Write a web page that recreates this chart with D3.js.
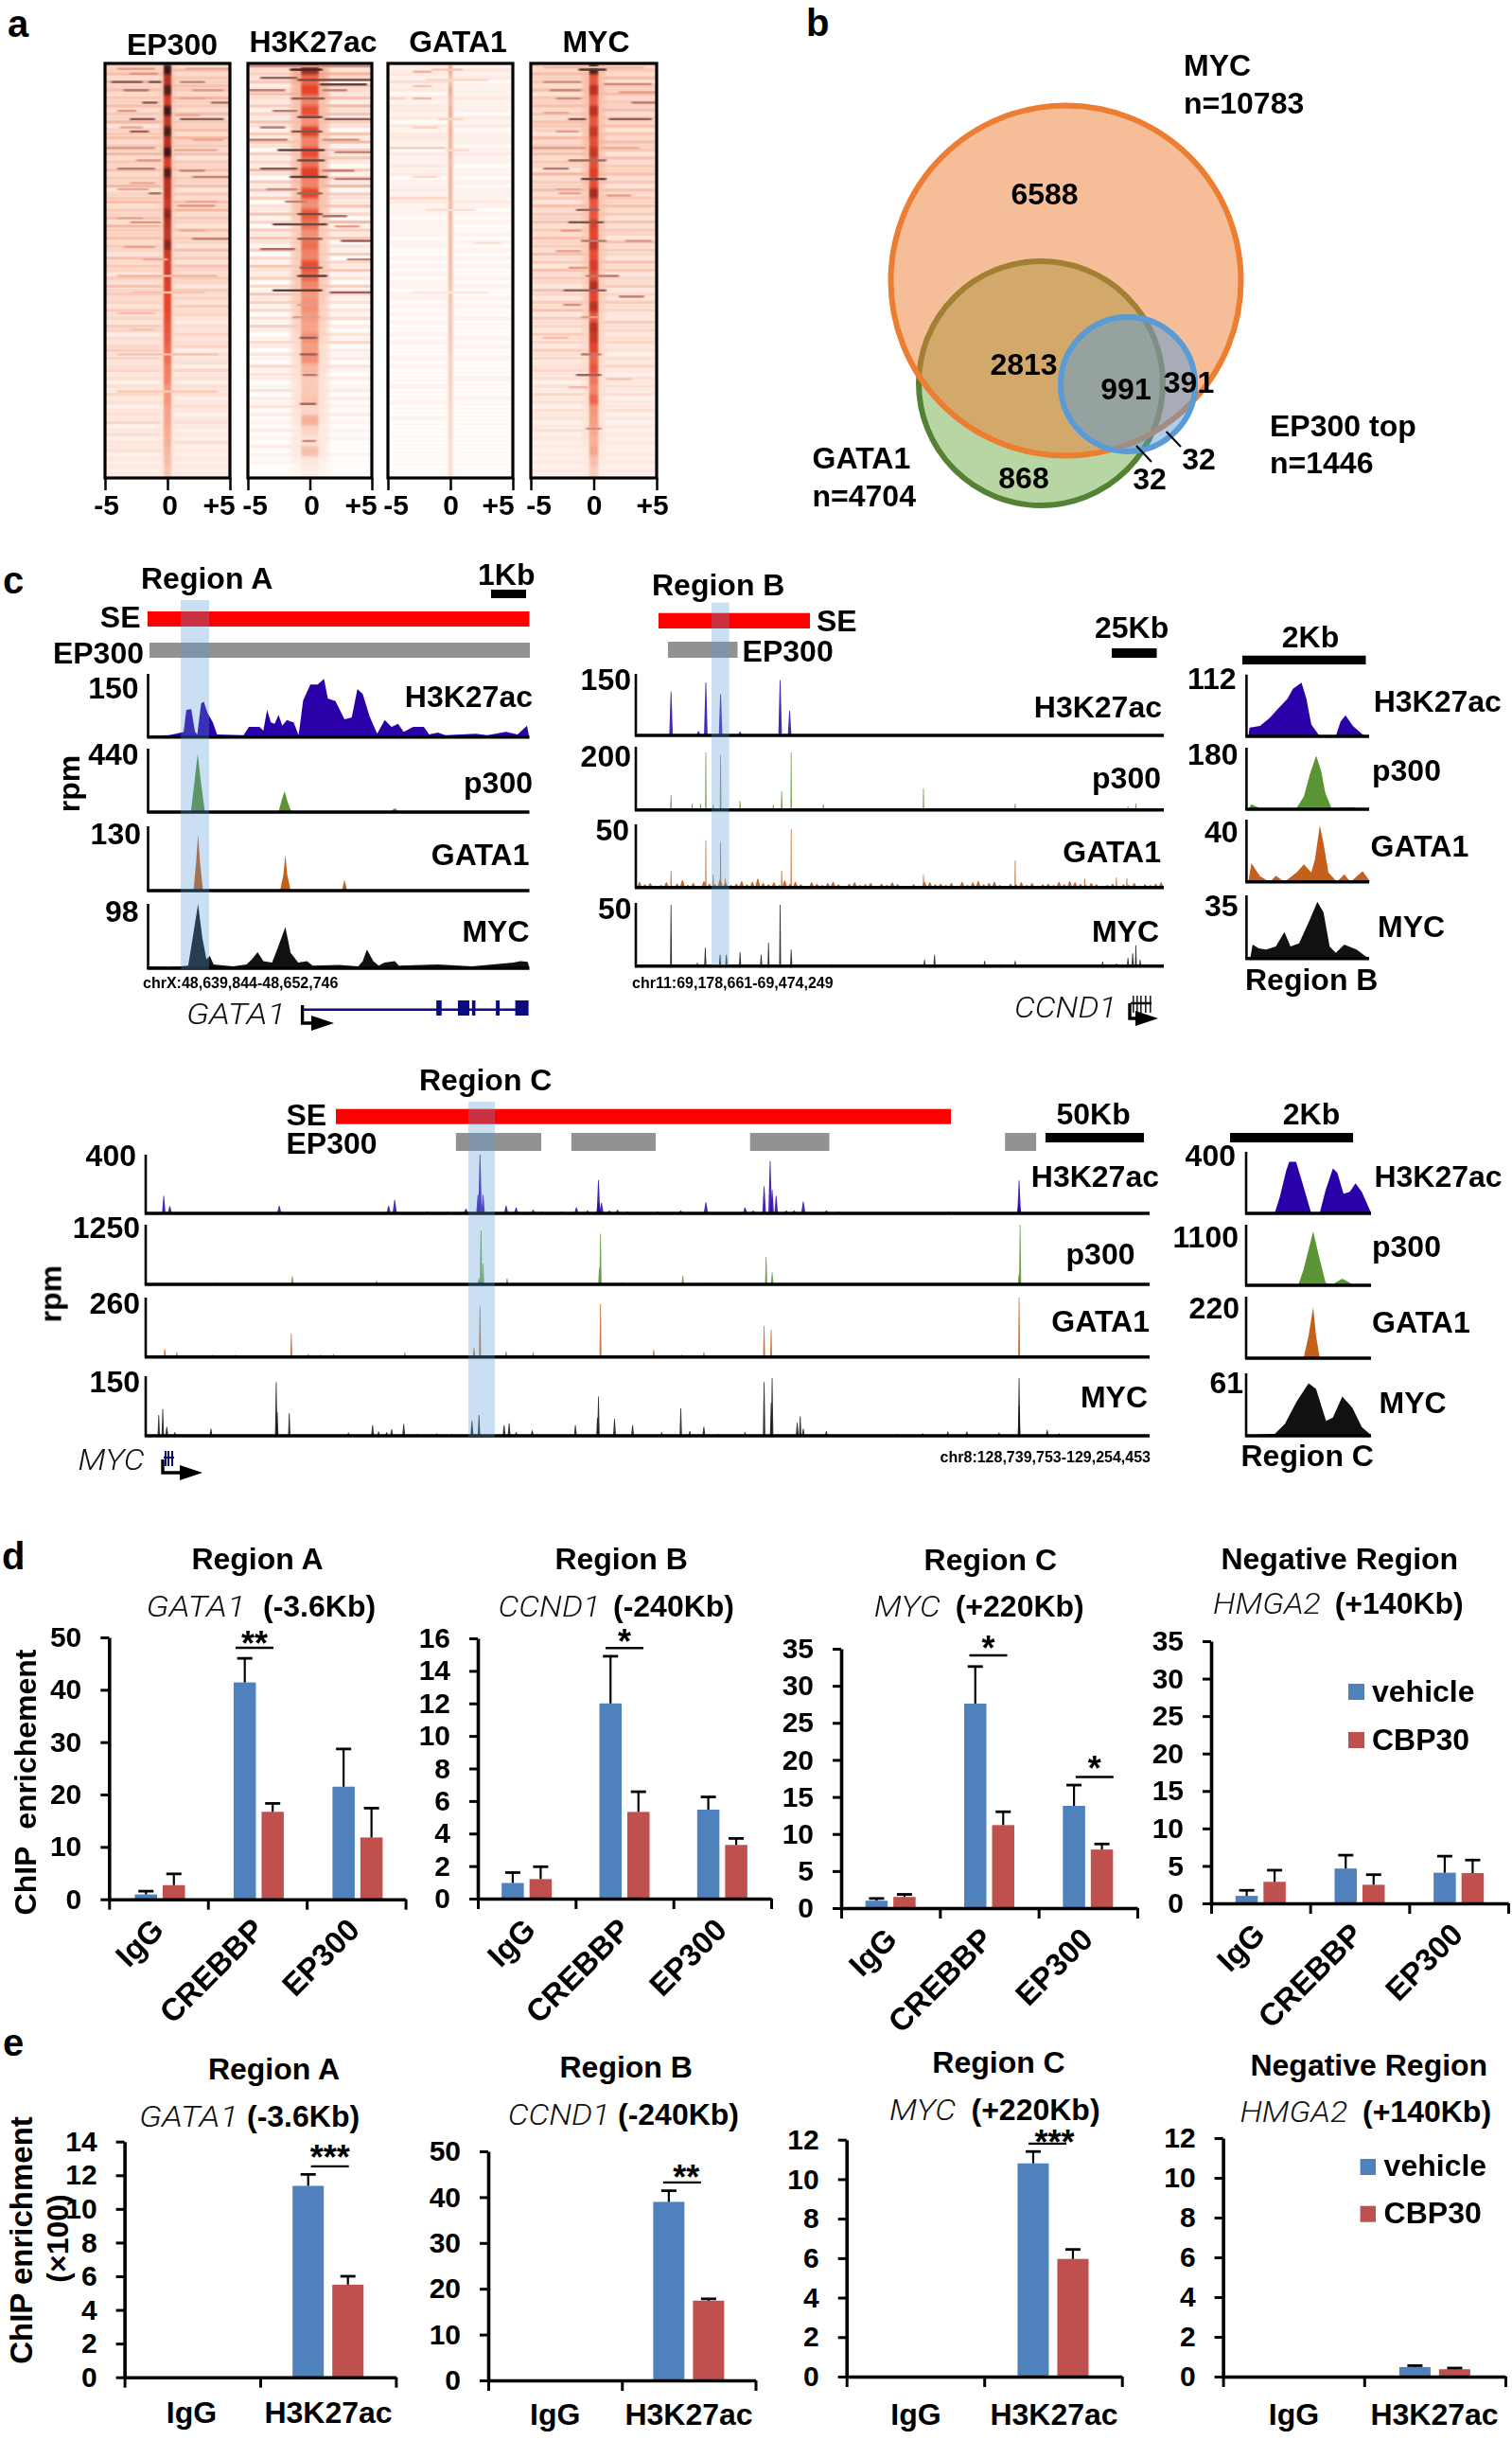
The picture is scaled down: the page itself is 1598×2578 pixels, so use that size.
<!DOCTYPE html>
<html><head><meta charset="utf-8">
<script src="https://cdn.jsdelivr.net/npm/d3@7/dist/d3.min.js"></script>
<style>
html,body{margin:0;padding:0;background:#fff}
svg{display:block}
text{font-family:"Liberation Sans",Arial,sans-serif;font-weight:700;fill:#000}
.gene{font-family:Roboto,"Liberation Sans",sans-serif;font-weight:300;font-style:italic;fill:#111}
</style></head><body>
<script>
/* ---------- a: heatmaps (levels 0-1, rows top to bottom) ---------- */
const heatmapNames=["EP300","H3K27ac","GATA1","MYC"];
const heatBoxes=[[111,243],[262,393],[410,542],[561,694]];
const heatTicks=["-5","0","+5"];
const bgEP300=[.24,.23,.22,.22,.22,.21,.21,.21,.2,.2,.19,.19,.18,.18,.17,.17,.15,.14,.13,.13,.12,.12,.12,.12];
const bgH3=[.2,.17,.12,.11,.1,.1,.09,.09,.08,.08,.07,.07,.06,.06,.05,.05,.04,.04,.03,.03,.03,.03,.03,.03];
const bgGATA1=[.09,.09,.08,.07,.1,.07,.07,.07,.06,.06,.06,.06,.06,.06,.06,.06,.06,.06,.06,.06,.06,.06,.05,.05];
const bgMYC=[.24,.24,.23,.22,.24,.2,.2,.2,.19,.18,.17,.16,.16,.15,.14,.14,.13,.12,.11,.1,.1,.1,.09,.09];
const fineEP300L="6574857465746583567465846574658356746574865746537465364756453645365243564534534243534234352342334232323";
const fineEP300R="5746576485647465748564736574657364758465374653746375465364536453243534524342534243423432343232423232323";
const fineH3L="7453624743625374263741625384163726143725163742615274361527362514263125314215243124132413121312131212111";
const fineH3R="6385264372847364173826473162738164372518263714261537241635241425131425132314213123131213121212111211111";
const fineGATA1L="3232423132332313233221322323122325322212222122112121212212212121211212111212111121112111211111111111111";
const fineGATA1R="2323122232221323122212322122121222321212112121212121121211212112111121211211112111121111111111111111111";
const fineMYCL="6475647365746476537465746538465746374657464756474637465375364736453645364534534243534243423423232323232";
const fineMYCR="5647365746574657364756374657463746574637465374653746354635364533645345342435324343423342323232322323232";
const haloH3=[.45,.42,.36,.36,.32,.36,.4,.36,.36,.32,.32,.32,.34,.32,.3,.28,.24,.22,.2,.2,.18,.15,.15,.08];
const haloEP300=[.34,.34,.32,.32,.32,.32,.32,.3,.3,.28,.28,.28,.26,.26,.24,.22,.2,.2,.18,.18,.16,.16,.14,.13];
const haloGATA1=[.12,.12,.12,.12,.12,.12,.12,.1,.1,.1,.1,.1,.1,.1,.1,.1,.1,.1,.08,.08,.08,.08,.08,.08];
const haloMYC=[.36,.36,.34,.34,.36,.34,.36,.32,.34,.32,.32,.32,.3,.3,.28,.26,.24,.22,.2,.2,.18,.18,.14,.12];
const coreEP300=[.98,.8,.95,.75,.97,.78,.96,.8,.97,.74,.94,.8,.8,.76,.88,.8,.78,.88,.76,.74,.74,.72,.7,.7,.68,.66,.65,.62,.6,.56,.55,.5,.5,.46,.45,.42,.4,.38,.35,.32];
const coreH3=[.85,.62,.7,.55,.68,.52,.72,.55,.68,.6,.72,.55,.7,.52,.65,.6,.52,.6,.55,.68,.62,.54,.5,.52,.48,.45,.52,.48,.52,.38,.3,.3,.32,.25,.4,.25,.18,.34,.15,.1];
const coreGATA1=[.46,.36,.46,.4,.46,.4,.44,.42,.46,.4,.44,.42,.42,.4,.42,.4,.38,.4,.4,.38,.38,.36,.36,.34,.34,.34,.34,.32,.3,.3,.3,.28,.28,.26,.26,.26,.24,.24,.22,.2];
const coreMYC=[.96,.66,.8,.64,.8,.66,.78,.68,.78,.68,.72,.68,.84,.66,.66,.72,.7,.78,.68,.74,.68,.82,.7,.8,.66,.8,.76,.7,.62,.66,.58,.54,.62,.5,.48,.44,.4,.44,.34,.28];
const coreWidths=[.3,.7,.14,.36];
const haloWidths=[.6,1.5,.3,.9];
const streaksEP300=[[.8,-4,-1,.5],[.8,1.5,5,.45],[2,-3,-.8,.52],[4,-4.5,-2,.72],[4,-1.5,-.5,.76],[4,1,3,.58],[6,-3.5,-1.5,.64],[6,2,4.5,.52],[8,1,3,.45],[9,-2,-.8,.74],[9,3.5,5,.65],[11,-4,-2.5,.52],[12,.6,2.6,.46],[13,-3,-1,.72],[13,1,4.5,.72],[15,-3.8,-2,.45],[16,-3,-1.5,.7],[18,2,4.5,.45],[20,-5,-1,.52],[20.5,.5,4,.44],[23,-2.5,-.5,.52],[25,-4,-1,.62],[25.5,1,3,.58],[27,2,5,.58],[28.5,-3,-1,.44],[30,-4,-1.5,.46],[31,-1.5,-.5,.65],[33,1.5,4,.44],[34,.8,3.8,.52],[37,-4,-2,.46],[38,-3,-.5,.52],[40,1,3,.42],[42,2,5,.6],[44,-3.5,-1,.46],[47,-2,0,.42],[51,-4,4,.37],[55,-3,3,.3],[60,-4,-1,.34],[64,-3,-1,.3],[70,-4,4,.3],[79,-4,4,.28]];
const streaksH3=[[.2,-5,5,.55],[1,-1.6,1,.96],[3,-4,-1,.7],[3.5,-1,5,.8],[4.6,.8,4.6,.86],[6,-5,-2,.62],[6,1,3,.6],[8,-1.5,1.2,.72],[11,-3,-1,.62],[12.5,-1,1,.82],[13,1.2,5,.72],[15,-4,-2,.62],[16,-1.5,1,.76],[18,-5,-1.8,.6],[18,1,4,.54],[20.5,-2.6,1.2,.86],[21,2,5,.58],[23,-1,1.2,.82],[25,-4,-1,.74],[25.5,1,3.6,.6],[27,-1.6,1.4,.86],[27.5,2,5,.6],[30,-3.5,-1,.56],[31,-1,1,.7],[33,-2,-.2,.6],[36,-1,1,.8],[36.5,1,3,.66],[38.5,-3,1.4,.82],[39,2,4,.5],[42,-1,1,.72],[42.5,2.5,5,.72],[44.5,-4,-1.2,.66],[47,3,5,.58],[49,-.8,1,.72],[51,-1,1.4,.86],[54.5,-3,1,.86],[55,1.6,5,.7],[58,-1,.4,.5],[61,-1.4,.8,.5],[66,-.8,.6,.72],[70,-.8,.6,.7],[75,-.6,.6,.62],[82,-.8,.5,.68],[91,-.6,.5,.56]];
const streaksGATA1=[[1,-1.5,1,.3],[1.5,-3,-1.5,.4],[3.5,-2,3,.2],[5,-3,-1.5,.3],[8,-3,-1.5,.36],[8,-5,-3.6,.22],[13,-1,1,.2],[15,-3,-1,.24],[20,-5,-.4,.26],[20.5,-.4,1.5,.18],[27,-3,-1,.18],[35,-2,2,.15],[43,2,4,.16],[55,-3,3,.1]];
const streaksMYC=[[.5,-4,4,.36],[1,-1.2,1,.9],[4,-4,-1,.55],[4.5,.8,4.6,.56],[6,-3.5,-1,.58],[6.5,2,5,.5],[8,-3,-1,.55],[9,3,5,.62],[11.5,-4,-2,.45],[13,-2,-.6,.74],[13,1.2,4.6,.72],[16,-3,-1.2,.5],[20,-5,-.6,.5],[20,.6,3.6,.42],[23,-2,1,.68],[25,-4,-2,.62],[27.5,-1,1,.82],[30,-3,-1,.44],[31,-2.8,-1,.46],[31.5,1,3,.5],[35,-1.4,.4,.7],[38,-2,.8,.76],[40,-2.6,-1,.5],[42.5,-1,1,.62],[42.5,2.5,4.6,.52],[45,-3,-1,.48],[49,-2,-.4,.5],[51,-.6,2,.62],[54.5,-2.4,1,.7],[56,2,4,.6],[58,-2.4,-1,.54],[61,-1,.4,.5],[66,-4,-2,.34],[70,-1,.6,.62],[75,-1.4,.6,.7],[76,1,3,.3],[78,-2,-.4,.36],[88,-.6,.6,.55]];
const heatBg=[bgEP300,bgH3,bgGATA1,bgMYC],heatHalo=[haloEP300,haloH3,haloGATA1,haloMYC],heatCore=[coreEP300,coreH3,coreGATA1,coreMYC],heatStreaks=[streaksEP300,streaksH3,streaksGATA1,streaksMYC];
const heatFine=[[fineEP300L,fineEP300R],[fineH3L,fineH3R],[fineGATA1L,fineGATA1R],[fineMYCL,fineMYCR]];

/* ---------- b: Venn ---------- */
const vennSets=["GATA1","MYC","EP300 top"];
const vennRadius=[129,185,71];
const vennCounts=["6588","2813","991","391","868","32","32"];

/* ---------- c: tracks; x in % of window, value in % of the axis maximum ---------- */
const trackNames=["H3K27ac","p300","GATA1","MYC"];
const maxA=["150","440","130","98"],maxB=["150","200","50","50"],maxC=["400","1250","260","150"];
const maxIB=["112","180","40","35"],maxIC=["400","1100","220","61"];
const aH3=[[0,2],[5,3],[7,5],[9,8],[9.7,43],[11,44],[12,8],[12.6,4],[13.6,53],[14.3,56],[15.3,38],[16.7,23],[17.8,4],[24.8,3],[26.2,16],[29,16],[30,10],[31,43],[32,23],[33,21],[34,35],[35,18],[36.2,27],[38,23],[39.3,3],[40.5,58],[42.4,83],[44.3,83],[46,92],[47,61],[49,57],[51.4,28],[53.3,31],[54.8,76],[56.2,68],[58,33],[60,5],[62,27],[63.8,16],[65.5,21],[67,8],[69.5,16],[72.3,16],[73.7,4],[76,7],[78,3],[86,5],[89,3],[94,8],[97,4],[99.5,18],[100,2]];
const aP300=[[10.9,0],[11.9,50],[12.7,92],[13.5,50],[14.6,0],[34,0],[34.8,18],[35.6,33],[36.4,16],[37.4,0],[50.6,0],[51,1],[51.4,0],[63.2,0],[64.7,6],[65.9,0]];
const aGATA1=[[11.6,0],[12.3,45],[12.8,88],[13.3,45],[14.1,0],[18,0],[18.6,1],[19,0],[34.4,0],[35.3,25],[35.8,56],[36.3,25],[37.2,0],[50.7,0],[51.4,17],[52.1,0]];
const aMYC=[[0,3],[5,2],[8,3],[10.2,4],[11,33],[12.8,100],[13.9,48],[15,14],[15.9,19],[16.9,6],[20,4],[22,3],[25.6,6],[27,14],[28.5,25],[30,11],[32.3,9],[33.9,33],[35.8,64],[37.2,24],[39.2,9],[41.5,11],[43,4],[50,5],[55,3],[56.2,11],[57.3,29],[59,11],[60.4,4],[61.9,9],[64.7,11],[65.7,4],[76,6],[85,3],[95.9,9],[97.8,11],[99.7,10],[100,3]];

const bH3=[[6.5,71],[11.7,7],[13.1,86],[15.9,67],[19.6,6],[27.2,90],[29,40],[93.9,2]];
const bP300=[[6.5,23],[10.5,10],[12.1,10],[13.1,91],[14.5,8],[15.9,87],[19.6,14],[25.9,8],[27.5,29],[29.3,91],[35.4,9],[54.4,34],[71.8,10],[93.2,6],[94.7,10],[4,2],[9,2],[18,3],[22,2],[32,2],[38,2],[45,2],[50,2],[58,3],[62,2],[66,2],[70,2],[76,3],[80,2],[84,2],[88,3],[91,3],[97,2]];
const bGATA1=[[13.1,75],[15.9,72],[29.3,93],[71.8,43],[6.5,27],[54.4,20],[27.5,27],[14.5,20],[16.8,14],[85,14],[93,15],[91,16]];
const bGATA1Grass=[9,5,7,3,4,8,3,6,12,4,7,3,10,6,5,13,8,4,6,10,5,9,14,7,5,8,4,11,6,9,5,3,8,6,4,7,9,5,3,6,8,4,5,7,3,6,4,8,5,3,2,5,3,9,8,5,6,4,7,3,9,4,8,10,5,7,9,4,3,6,5,8,4,7,3,5,6,4,9,5,10,8,6,4,7,5,3,4,6,3,5,4,7,3,5,4,6,8];
const bMYC=[[6.5,97],[11.5,5],[13,29],[15.8,18],[17,18],[19.6,22],[23.6,18],[25,37],[27.2,97],[29.3,26],[54.6,10],[56.5,18],[66,8],[71.8,8],[88.4,7],[93.2,13],[94.1,20],[94.7,33],[95.5,10],[4,2],[9,2],[21,3],[31,3],[34,2],[37,3],[42,2],[48,2],[60,2],[63,2],[69,3],[75,2],[80,2],[85,3],[91,4]];

const cH3=[[1.8,30],[2.4,12],[13.3,13],[24.2,13],[24.8,23],[31.9,8],[33.3,100],[33.1,32],[33.6,32],[35.9,13],[36.9,10],[38.6,6],[42.9,10],[45.1,57],[45.1,18],[45.4,18],[47,6],[53.3,5],[55.8,19],[59.7,10],[61.6,46],[62.2,89],[62.4,40],[62.8,30],[63.8,5],[64.6,5],[65.5,20],[67.8,5],[69,3],[80,3],[87,56],[87,18],[8.3,2],[28,3],[30,3],[39.5,3],[41.5,3],[44,5],[46.2,5],[48,3],[51,3],[56.5,2],[58,2],[60.5,5]];
const cP300=[[6.9,3],[14.6,14],[23,6],[33.4,90],[33.6,35],[33.2,10],[36,10],[45.3,85],[45.2,28],[47.4,3],[53.5,14],[55.8,3],[61.8,46],[62.4,20],[87.1,100],[87,18]];
const cGATA1=[[1.9,13],[3.1,8],[6.7,4],[9,4],[14.5,39],[16.2,5],[17.4,4],[18.7,5],[25.8,8],[32.7,15],[33.3,85],[35.9,9],[38.6,8],[45.3,89],[47.3,3],[50.6,12],[53.4,4],[55.6,8],[61.6,52],[62.3,46],[77.4,2],[79.8,2],[81.7,2],[87,100],[36.9,3],[44.4,3],[52,3],[54.5,3],[57,2],[89,2],[92,2],[96,2]];
const cMYC=[[1.3,35],[1.7,45],[2.1,15],[2.9,6],[6.5,12],[13,90],[13.1,40],[14.3,38],[20.2,5],[22.6,18],[23.2,7],[24,6],[24.5,11],[25.7,20],[29,4],[32.5,25],[33.2,35],[35.7,18],[36.2,21],[36.9,6],[38.5,9],[42.8,18],[45.1,66],[45,30],[46.7,28],[48.5,18],[51.4,6],[53.3,46],[54.2,8],[55.6,15],[59.7,6],[61.6,90],[62.4,97],[62.3,55],[64.9,22],[65.2,33],[65.5,12],[67.8,8],[74.9,3],[77.4,4],[79.9,7],[81.8,7],[85,5],[87,97],[87,50],[89.8,10],[91,4],[16,2],[27,3],[30.5,3],[40,2],[57,3]];

const ibH3=[[1.5,0],[2.5,14],[11,17],[19,30],[26,45],[33.5,61],[38,77],[45,87],[49,61],[53,19],[60,0],[73,0],[77,24],[81,34],[87,17],[95,3],[98.5,0]];
const ibP300=[[1.5,0],[4,8],[11,2],[41,2],[47,21],[52,58],[57,87],[61,63],[64.5,26],[69.5,2],[85,3],[100,0]];
const ibGATA1=[[1.5,0],[4,30],[11,9],[19,0],[24,10],[31,0],[41,15],[47,28],[53,15],[56,36],[60,91],[63,62],[67,15],[74,0],[80,12],[85,0],[95,17],[101,1]];
const ibMYC=[[3,0],[5,22],[10,16],[16,14],[24,19],[31,42],[36,19],[43,24],[51,58],[58,90],[63,73],[68,19],[73,9],[80,22],[90,14],[100,0]];
const icH3=[[1.5,1],[23,1],[27,27],[32,69],[34.5,84],[40,84],[46,43],[52,1],[59,1],[63.7,38],[69.5,73],[73,66],[78,32],[83,35],[87.6,49],[92.6,35],[100,1]];
const icP300=[[1.5,0],[32,0],[42,2],[46,26],[53.7,89],[59,42],[63.7,4],[69.5,2],[77,11],[86.8,0],[97,0]];
const icGATA1=[[1.5,0],[46,0],[50,36],[53.7,83],[56,36],[59,0],[100,0]];
const icMYC=[[1.5,1],[23,3],[31,19],[40.5,55],[50,84],[56,75],[64,24],[69.5,29],[77,63],[85,45],[92.6,14],[100,1]];
const trackColors=["#2a00a8","#5a9435","#c55f1c","#111111"];

const gataExons=[[75.6,77],[81.3,84.3],[85,85.9],[91.3,92.3],[96.4,99.9]];
const epSegsC=[[30.9,39.4],[42.4,50.8],[60.2,68.1],[85.6,88.7]];
const geneWidths={GATA1:105,CCND1:108,MYC:70,HMGA2:114};

/* ---------- d / e: bar charts ---------- */
const dCats=["IgG","CREBBP","EP300"],eCats=["IgG","H3K27ac"];
const series=["vehicle","CBP30"];
const dTicksA=[0,10,20,30,40,50],dTicksB=[0,2,4,6,8,10,12,14,16],dTicks35=[0,5,10,15,20,25,30,35];
const dA_vehicle=[.93,41.4,21.5],dA_CBP30=[2.7,16.7,11.8],dA_vehErr=[1.55,46,28.7],dA_cbpErr=[4.85,18.3,17.4];
const dB_vehicle=[.96,12,5.47],dB_CBP30=[1.2,5.33,3.3],dB_vehErr=[1.6,14.9,6.25],dB_cbpErr=[1.96,6.57,3.7];
const dC_vehicle=[1,27.6,13.8],dC_CBP30=[1.5,11.2,7.9],dC_vehErr=[1.3,32.6,16.6],dC_cbpErr=[1.85,13,8.65];
const dN_vehicle=[1,4.65,4.09],dN_CBP30=[2.87,2.48,4.04],dN_vehErr=[1.74,6.43,6.3],dN_cbpErr=[4.43,3.83,5.78];
const eTicksA=[0,2,4,6,8,10,12,14],eTicksB=[0,10,20,30,40,50],eTicks12=[0,2,4,6,8,10,12];
const eA_vehicle=[.03,11.37],eA_CBP30=[.03,5.5],eA_vehErr=[.03,12.05],eA_cbpErr=[.03,6];
const eB_vehicle=[.1,38.97],eB_CBP30=[.1,17.4],eB_vehErr=[.1,41.4],eB_cbpErr=[.1,17.8];
const eC_vehicle=[.03,10.8],eC_CBP30=[.03,5.96],eC_vehErr=[.03,11.4],eC_cbpErr=[.03,6.44];
const eN_vehicle=[.03,.48],eN_CBP30=[.03,.37],eN_vehErr=[.03,.55],eN_cbpErr=[.03,.43];

const W=1598,H=2578;
const svg=d3.select("body").append("svg").attr("width",W).attr("height",H).attr("viewBox",`0 0 ${W} ${H}`);
const defs=svg.append("defs");
function blur(id,s){defs.append("filter").attr("id",id).attr("x","-5%").attr("y","-5%").attr("width","110%").attr("height","110%").append("feGaussianBlur").attr("stdDeviation",s);}
blur("soft","1.3 0.5");blur("softCore","0.8 1.8");blur("softWide","2.5 3");
function T(x,y,s,o={}){
  const n=svg.append("text").attr("x",x).attr("y",y).attr("font-size",o.size||32).attr("text-anchor",o.a||"start").text(s);
  if(o.cls)n.attr("class",o.cls);
  if(o.len)n.attr("textLength",o.len).attr("lengthAdjust","spacingAndGlyphs");
  if(o.rot!=null)n.attr("transform",`rotate(${o.rot} ${x} ${y})`);
  return n;
}
function R(x0,y0,x1,y1,c){svg.append("rect").attr("x",x0).attr("y",y0).attr("width",x1-x0).attr("height",y1-y0).attr("fill",c);}

/* panel letters */
[["a",8,39],["b",852,38],["c",3,627],["d",2,1658],["e",3,2172]].forEach(d=>T(d[1],d[2],d[0],{size:40}));

/* === a === */
const heatColor=d3.scaleLinear().domain([0,.25,.5,.7,.85,1]).range(["#ffffff","#fbd6c6","#f4987c","#e6452c","#a12a20","#2a1512"]);
const streakColor=d3.scaleLinear().domain([.1,.3,.5,.72,1]).range(["#fde8de","#f8c4b0","#e79c8a","#8f5f58","#30201e"]);
const fineColor=d3.scaleLinear().domain([1,3,5,8]).range(["#fffdfc","#fde6dc","#fbcfbd","#f3ab93"]);
const heatTitles=[[182,58],[331,54.5],[484,54.5],[630,54.5]];
const heatTickDx=[[1,2,-12],[7,1.5,-12],[8,0,-16],[8,0,-5]];
heatmapNames.forEach((nm,i)=>{
  const [x0,x1]=heatBoxes[i],top=68,bot=504;
  const x=d3.scaleLinear().domain([-5,5]).range([x0,x1]);
  const y=d3.scaleLinear().domain([0,100]).range([top,bot]);
  const cid="clip"+i;
  defs.append("clipPath").attr("id",cid).append("rect").attr("x",x0).attr("y",top).attr("width",x1-x0).attr("height",bot-top);
  const outer=svg.append("g").attr("clip-path",`url(#${cid})`);
  const gb=outer.append("g").attr("filter","url(#softWide)");
  const bg=heatBg[i],hl=heatHalo[i],co=heatCore[i];
  bg.forEach((v,r)=>gb.append("rect").attr("x",x(-5)-8).attr("width",x1-x0+16).attr("y",y(r/bg.length*100)).attr("height",y(100/bg.length)-top+.5).attr("fill",heatColor(v)));
  const g=outer.append("g").attr("filter","url(#soft)");
  heatFine[i].forEach((str,side)=>{
    const n=str.length;
    Array.from(str).forEach((c,r)=>g.append("rect").attr("x",side?x(.2):x(-5)).attr("width",x(.2)-x(-5)-(side?0:x(.2)-x(-.2))).attr("y",y(r/n*100)).attr("height",3.2).attr("fill",fineColor(+c)).attr("opacity",.75));
  });
  const gh=outer.append("g").attr("filter","url(#softWide)");
  hl.forEach((v,r)=>gh.append("rect").attr("x",x(-haloWidths[i])).attr("width",x(haloWidths[i])-x(-haloWidths[i])).attr("y",y(r/hl.length*100)).attr("height",y(100/hl.length)-top+.5).attr("fill",heatColor(v)).attr("opacity",.8));
  const gc=outer.append("g").attr("filter","url(#softCore)");
  co.forEach((v,r)=>gc.append("rect").attr("x",x(-coreWidths[i])).attr("width",x(coreWidths[i])-x(-coreWidths[i])).attr("y",y(r/co.length*100)).attr("height",y(100/co.length)-top+.5).attr("fill",heatColor(v)));
  const gs=outer.append("g").attr("filter","url(#soft)");
  heatStreaks[i].forEach(s=>gs.append("rect").attr("x",x(s[1])).attr("width",x(s[2])-x(s[1])).attr("y",y(s[0])).attr("height",2.4).attr("fill",streakColor(s[3])));
  svg.append("rect").attr("x",x0).attr("y",top-1).attr("width",x1-x0).attr("height",bot-top+2).attr("fill","none").attr("stroke","#000").attr("stroke-width",3.2);
  const ax=svg.append("g").attr("transform",`translate(0,${bot+1})`).call(d3.axisBottom(x).tickValues([-5,0,5]).tickSize(13).tickSizeOuter(0).tickFormat((d,k)=>heatTicks[k]));
  ax.select(".domain").remove();
  ax.selectAll("line").attr("stroke","#000").attr("stroke-width",2.5);
  ax.selectAll("text").attr("font-size",30).attr("font-family","Liberation Sans").attr("font-weight",700).attr("fill","#000").attr("dx",(d,k)=>heatTickDx[i][k]).attr("y",18);
  T(heatTitles[i][0],heatTitles[i][1],nm,{a:"middle"});
});

/* === b === */
const vennX=d3.scaleLinear().domain([0,100]).range([900,1400]);
const vennY=d3.scaleLinear().domain([0,100]).range([100,600]);
const vennCenters=[[40,61],[45.3,39.3],[58.4,61.2]];
const vennFill=["#70ad47","#ed7d31","#5b9bd5"],vennStroke=["#548235","#ed7d31","#5b9bd5"];
vennSets.forEach((s,i)=>svg.append("circle").attr("cx",vennX(vennCenters[i][0])).attr("cy",vennY(vennCenters[i][1])).attr("r",vennRadius[i])
  .attr("fill",vennFill[i]).attr("fill-opacity",.5).attr("stroke",vennStroke[i]).attr("stroke-width",6));
[[1104,216],[1082,396],[1190,422],[1256.5,414.5],[1082,516],[1215,517],[1267,496]].forEach((p,i)=>T(p[0],p[1],vennCounts[i],{a:"middle"}));
[[1201,471,1217,488],[1232.6,456,1248,472]].forEach(l=>svg.append("line").attr("x1",l[0]).attr("y1",l[1]).attr("x2",l[2]).attr("y2",l[3]).attr("stroke","#000").attr("stroke-width",2));
T(1251,80,"MYC");T(1251,120,"n=10783");
T(1342,461,"EP300 top");T(1342,500,"n=1446");
T(858.5,495,"GATA1");T(858.5,534.5,"n=4704");

/* === c helpers === */
function axisL(x,top,base,x1,w){
  svg.append("line").attr("x1",x).attr("x2",x).attr("y1",top).attr("y2",base+1).attr("stroke","#000").attr("stroke-width",w||2.6);
  svg.append("line").attr("x1",x-1).attr("x2",x1).attr("y1",base).attr("y2",base).attr("stroke","#000").attr("stroke-width",3.4);
}
function areaTrack(pts,x0,x1,top,base,col,op){
  const x=d3.scaleLinear().domain([0,100]).range([x0,x1]),y=d3.scaleLinear().domain([0,100]).range([base,top]);
  svg.append("path").datum(pts).attr("d",d3.area().x(d=>x(d[0])).y0(y(0)).y1(d=>y(d[1]))).attr("fill",col).attr("fill-opacity",op||1);
}
function spikeTrack(pts,x0,x1,top,base,col,hw,op){
  const x=d3.scaleLinear().domain([0,100]).range([x0,x1]),y=d3.scaleLinear().domain([0,100]).range([base,top]);
  svg.append("g").selectAll("path").data(pts).join("path")
   .attr("d",d=>{const a=hw*(d[1]<30?1.2:1);return `M${x(d[0])-a},${y(0)}L${x(d[0])-.4},${y(d[1])}L${x(d[0])+.4},${y(d[1])}L${x(d[0])+a},${y(0)}Z`;})
   .attr("fill",col).attr("fill-opacity",op||.95);
}
function band(x0,y0,x1,y1){svg.append("rect").attr("x",x0).attr("y",y0).attr("width",x1-x0).attr("height",y1-y0).attr("fill","#5b9bd5").attr("fill-opacity",.32);}
const RED="#ff0000",GREY="#929292";
function gene(x,y,s){T(x,y,s,{cls:"gene",len:geneWidths[s]});}

/* Region A */
T(149,622,"Region A");T(505,618,"1Kb");R(519,623,556,632,"#000");
T(148.5,663,"SE",{a:"end"});R(156,646,559.5,662,RED);
T(152,701,"EP300",{a:"end"});R(158,679,560,695,GREY);
[[712,778.7,aH3],[791,858,aP300],[873,941,aGATA1],[955,1023,aMYC]].forEach((t,i)=>{
  areaTrack(t[2],158,559,t[0],t[1],trackColors[i]);axisL(156.5,t[0],t[1],559.5);
});
[[146.6,737.7],[146.6,808],[149,892],[146.6,974]].forEach((p,i)=>T(p[0],p[1],maxA[i],{a:"end"}));
[[563,746.7],[563,838],[559.5,914],[559.5,995]].forEach((p,i)=>T(p[0],p[1],trackNames[i],{a:"end"}));
band(191,634,221,1024);
T(83.7,828,"rpm",{a:"middle",rot:-90});
T(151,1044,"chrX:48,639,844-48,652,746",{size:16});
gene(197,1081.7,"GATA1");
const gx=d3.scaleLinear().domain([0,100]).range([158,559]);
svg.append("line").attr("x1",319.6).attr("x2",558).attr("y1",1066.7).attr("y2",1066.7).attr("stroke","#0b0b80").attr("stroke-width",2.4);
gataExons.forEach(e=>R(gx(e[0]),1057,gx(e[1]),1073,"#0b0b80"));
function tss(xv,ytop,ybot,xh,xt){
  svg.append("path").attr("d",`M${xv},${ytop}V${ybot}H${xh}`).attr("fill","none").attr("stroke","#000").attr("stroke-width",3.4);
  svg.append("path").attr("d",`M${xh},${ybot-8}L${xt},${ybot}L${xh},${ybot+8}Z`).attr("fill","#000");
}
tss(319.6,1062,1081,329,353);

/* Region B */
T(689,629,"Region B");R(696,647.7,856,664,RED);T(863,667,"SE");
R(706,678,779.5,695,GREY);T(784.6,699,"EP300");
T(1157,674,"25Kb");R(1175,685,1222.5,695,"#000");
const bTr=[[712,777,bH3,1.9],[789,855.7,bP300,.8],[871,937.7,bGATA1,.7],[954,1020.7,bMYC,1]];
bTr.forEach((t,i)=>{
  spikeTrack(t[2],673,1230,t[0],t[1],trackColors[i],t[3],.85);
  if(i==2){const gr=bGATA1Grass.map((v,k)=>[(k+.5)/bGATA1Grass.length*100,v]);spikeTrack(gr,673,1230,t[0],t[1],trackColors[2],2.4,.95);}
  axisL(672,t[0],t[1],1230);
});
[[667,729],[667,810],[665,887.7],[667.5,971]].forEach((p,i)=>T(p[0],p[1],maxB[i],{a:"end"}));
[[1228,758],[1227,833],[1227,910.7],[1225,995]].forEach((p,i)=>T(p[0],p[1],trackNames[i],{a:"end"}));
band(752,636.7,770.6,1020);
T(668,1044,"chr11:69,178,661-69,474,249",{size:16});
gene(1072,1075,"CCND1");
[1197,1201,1205,1210,1215].forEach(x=>R(x,1052,x+1.6,1070,"#222"));
svg.append("line").attr("x1",1195).attr("x2",1217).attr("y1",1060).attr("y2",1060).attr("stroke","#111").attr("stroke-width",2.5);
tss(1194,1060,1076,1200,1224);

/* Inset B */
T(1385,684,"2Kb",{a:"middle"});R(1313,692.7,1443.5,702,"#000");
[[712.7,778,ibH3],[790,855,ibP300],[866,931.7,ibGATA1],[946,1012.7,ibMYC]].forEach((t,i)=>{
  areaTrack(t[2],1317.4,1446.6,t[0],t[1],trackColors[i]);axisL(1317.4,t[0],t[1],1447);
});
[[1306.6,728],[1308.5,808],[1308.5,890],[1308.5,968]].forEach((p,i)=>T(p[0],p[1],maxIB[i],{a:"end"}));
[[1451.7,751.7],[1450,825],[1448.5,905],[1456,990]].forEach((p,i)=>T(p[0],p[1],trackNames[i]));
T(1316,1046,"Region B");

/* Region C */
T(443,1152,"Region C");T(302.5,1189,"SE");R(355,1171.7,1005,1187.7,RED);
T(302.5,1219,"EP300");
const cx=d3.scaleLinear().domain([0,100]).range([154,1215]);
epSegsC.forEach(s=>R(cx(s[0]),1197,cx(s[1]),1216,GREY));
T(1116.5,1188,"50Kb");R(1105,1197,1209,1207,"#000");
[[1220,1282,cH3,1.9],[1294,1357,cP300,1.2],[1371,1433.7,cGATA1,1.1],[1454,1517,cMYC,1.3]].forEach((t,i)=>{
  spikeTrack(t[2],154,1215,t[0],t[1],trackColors[i],t[3],.85);axisL(154,t[0],t[1],1215);
});
[[144,1232],[148,1308],[148,1388],[148,1471]].forEach((p,i)=>T(p[0],p[1],maxC[i],{a:"end"}));
[[1225,1254],[1199.5,1336],[1215,1407],[1213,1487]].forEach((p,i)=>T(p[0],p[1],trackNames[i],{a:"end"}));
band(495,1164,523,1518);
T(64.6,1367,"rpm",{a:"middle",rot:-90});
T(1216,1545,"chr8:128,739,753-129,254,453",{size:16,a:"end"});
gene(82.6,1553,"MYC");
[174,177,181].forEach(x=>R(x,1533,x+2,1549,"#0b0b80"));
svg.append("line").attr("x1",173).attr("x2",184).attr("y1",1540).attr("y2",1540).attr("stroke","#0b0b80").attr("stroke-width",2);
tss(172,1542,1556,190,214);

/* Inset C */
T(1386,1188,"2Kb",{a:"middle"});R(1300,1197,1430,1207,"#000");
[[1217,1282,icH3],[1294,1358,icP300],[1370,1435,icGATA1],[1451,1517,icMYC]].forEach((t,i)=>{
  areaTrack(t[2],1317,1449,t[0],t[1],trackColors[i]);axisL(1317,t[0],t[1],1449);
});
[[1306,1232],[1309,1318],[1310,1393],[1314,1472]].forEach((p,i)=>T(p[0],p[1],maxIC[i],{a:"end"}));
[[1452.4,1254],[1450,1328],[1450,1408],[1457.5,1493]].forEach((p,i)=>T(p[0],p[1],trackNames[i]));
T(1311.5,1549,"Region C");

/* === d / e charts === */
const BLUE="#4f81bd",CRED="#c0504d";
function barChart(o){
  const y=d3.scaleLinear().domain([0,o.max]).range([o.y0,o.yTop]);
  const x=d3.scaleBand().domain(o.cats).range([o.x0,o.x1]);
  const w=o.barW,gap=o.gap,dx=o.dx||0;
  o.cats.forEach((c,i)=>{
    const cc=x(c)+x.bandwidth()/2+dx;
    [[o.veh,o.vehE,BLUE,cc-gap/2-w],[o.cbp,o.cbpE,CRED,cc+gap/2]].forEach(s=>{
      svg.append("rect").attr("x",s[3]).attr("width",w).attr("y",y(s[0][i])).attr("height",Math.max(o.y0-y(s[0][i]),0)).attr("fill",s[2]);
      const m=s[3]+w/2,ye=y(s[1][i]);
      if(s[1][i]>s[0][i]+.01){
        svg.append("line").attr("x1",m).attr("x2",m).attr("y1",y(s[0][i])).attr("y2",ye).attr("stroke","#000").attr("stroke-width",2.2);
        svg.append("line").attr("x1",m-8).attr("x2",m+8).attr("y1",ye).attr("y2",ye).attr("stroke","#000").attr("stroke-width",2.8);
      }
    });
  });
  const ya=svg.append("g").attr("transform",`translate(${o.x0},0)`).call(d3.axisLeft(y).tickValues(o.ticks).tickSize(9).tickSizeOuter(0).tickPadding(20).tickFormat(d3.format("d")));
  const xe=d3.scaleLinear().domain([0,o.cats.length]).range([o.x0,o.x1]);
  const xa=svg.append("g").attr("transform",`translate(0,${o.y0})`).call(d3.axisBottom(xe).tickValues(d3.range(o.cats.length+1)).tickSize(11).tickSizeOuter(0).tickFormat(""));
  [ya,xa].forEach(a=>{a.selectAll(".domain").attr("stroke","#000").attr("stroke-width",3.6);a.selectAll("line").attr("stroke","#000").attr("stroke-width",3);});
  ya.selectAll("text").attr("font-size",30).attr("font-family","Liberation Sans").attr("font-weight",700).attr("fill","#000");
  (o.sig||[]).forEach(s=>{
    const cc=x(s.cat)+x.bandwidth()/2+s.dx;
    svg.append("line").attr("x1",cc-20).attr("x2",cc+20).attr("y1",y(s.v)).attr("y2",y(s.v)).attr("stroke","#000").attr("stroke-width",2.4);
    T(cc+(s.sdx||0),y(s.v)-s.up+20,s.t,{size:36,a:"middle"});
  });
  o.cats.forEach((c,i)=>{
    if(o.rotLabels) T(o.rotLabels[i],o.labY,c,{size:33,a:"end",rot:-45});
    else T(o.labX[i],o.labY,c,{size:32,a:"middle"});
  });
  T(o.title[0],o.title[1],o.title[2],{a:"middle"});
  gene(o.gene[0],o.gene[2],o.gene[3]);
  T(o.gene[1],o.gene[2],o.gene[4]);
}
const dw={cats:dCats,barW:23.5,gap:6};
barChart({...dw,x0:115.3,x1:428.6,y0:2006.7,yTop:1730,max:50,ticks:dTicksA,veh:dA_vehicle,cbp:dA_CBP30,vehE:dA_vehErr,cbpE:dA_cbpErr,dx:1.5,
  sig:[{cat:"CREBBP",t:"**",v:48,dx:-3,up:12.5}],rotLabels:[175,281,382],labY:2041,title:[272,1658,"Region A"],gene:[154.6,278,1708,"GATA1","(-3.6Kb)"]});
barChart({...dw,x0:505,x1:815,y0:2006,yTop:1731,max:16,ticks:dTicksB,veh:dB_vehicle,cbp:dB_CBP30,vehE:dB_vehErr,cbpE:dB_cbpErr,
  sig:[{cat:"CREBBP",t:"*",v:15.4,dx:0,up:14}],rotLabels:[568,668,770],labY:2041,title:[656.6,1658,"Region B"],gene:[526.5,648,1708,"CCND1","(-240Kb)"]});
barChart({...dw,x0:889,x1:1202,y0:2016,yTop:1742,max:35,ticks:dTicks35,veh:dC_vehicle,cbp:dC_CBP30,vehE:dC_vehErr,cbpE:dC_cbpErr,
  sig:[{cat:"CREBBP",t:"*",v:34.1,dx:-1,up:15},{cat:"EP300",t:"*",v:17.7,dx:7,up:16.6}],rotLabels:[950,1051,1157],labY:2051,title:[1046.8,1659,"Region C"],gene:[923.7,1009.7,1708,"MYC","(+220Kb)"]});
barChart({...dw,x0:1280,x1:1594,y0:2011,yTop:1734,max:35,ticks:dTicks35,veh:dN_vehicle,cbp:dN_CBP30,vehE:dN_vehErr,cbpE:dN_cbpErr,
  rotLabels:[1339,1442,1548],labY:2046,title:[1415.8,1657.5,"Negative Region"],gene:[1282,1410.7,1705,"HMGA2","(+140Kb)"]});
T(38,1883,"ChIP\u00a0\u00a0enrichement",{a:"middle",rot:-90});
const ew={cats:eCats,barW:33,gap:9};
barChart({...ew,x0:131.6,x1:418.4,y0:2511.7,yTop:2262.7,max:14,ticks:eTicksA,veh:eA_vehicle,cbp:eA_CBP30,vehE:eA_vehErr,cbpE:eA_cbpErr,
  sig:[{cat:"H3K27ac",t:"***",v:12.53,dx:2,up:17}],labX:[202.5,347],labY:2560,title:[289.5,2197,"Region A"],gene:[147,261,2246.7,"GATA1","(-3.6Kb)"]});
barChart({...ew,x0:516,x1:798.5,y0:2515,yTop:2273,max:50,ticks:eTicksB,veh:eB_vehicle,cbp:eB_CBP30,vehE:eB_vehErr,cbpE:eB_cbpErr,
  sig:[{cat:"H3K27ac",t:"**",v:43.2,dx:-7,up:13,sdx:4.5}],labX:[586.7,728],labY:2561.7,title:[661.7,2195,"Region B"],gene:[536.7,653,2245,"CCND1","(-240Kb)"]});
barChart({...ew,x0:894.7,x1:1185.7,y0:2511,yTop:2260.7,max:12,ticks:eTicks12,veh:eC_vehicle,cbp:eC_CBP30,vehE:eC_vehErr,cbpE:eC_cbpErr,
  sig:[{cat:"H3K27ac",t:"***",v:11.8,dx:-6,up:9,sdx:7.5}],labX:[968,1114],labY:2561.7,title:[1055.5,2190,"Region C"],gene:[940,1026.5,2240,"MYC","(+220Kb)"]});
barChart({...ew,x0:1292.6,x1:1591,y0:2511,yTop:2259,max:12,ticks:eTicks12,veh:eN_vehicle,cbp:eN_CBP30,vehE:eN_vehErr,cbpE:eN_cbpErr,
  labX:[1367.4,1516],labY:2561.7,title:[1446.8,2193,"Negative Region"],gene:[1310.4,1440,2241.7,"HMGA2","(+140Kb)"]});
T(34,2367,"ChIP enrichment",{size:33,a:"middle",rot:-90});
T(72,2365,"(×100)",{size:32,a:"middle",rot:-90});
/* legends */
[[1425,1442,1779,1830,1450,1797.7,1849],[1437.6,1454,2281,2330.7,1462.6,2299,2349]].forEach(l=>{
  R(l[0],l[2],l[1],l[2]+17,BLUE);R(l[0],l[3],l[1],l[3]+17,CRED);
  T(l[4],l[5],series[0]);T(l[4],l[6],series[1]);
});
</script></body></html>
